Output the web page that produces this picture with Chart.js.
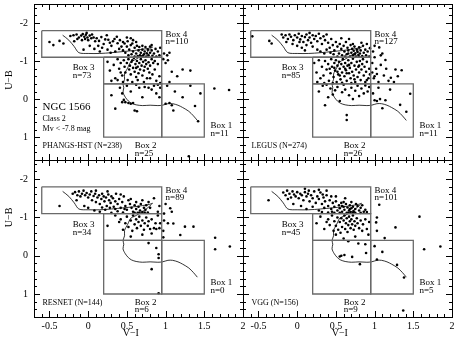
<!DOCTYPE html>
<html>
<head>
<meta charset="utf-8">
<script src="https://cdn.jsdelivr.net/npm/chart.js@4.4.0/dist/chart.umd.min.js"></script>
<style>
  body { margin: 0; background: #fff; }
  #wrap { position: relative; width: 457px; height: 341px; background: #fff; }
  #wrap canvas { position: absolute; left: 0; top: 0; }
</style>
</head>
<body>
<div id="wrap">
  <canvas id="c0" width="457" height="341"></canvas>
  <canvas id="c1" width="457" height="341"></canvas>
  <canvas id="c2" width="457" height="341"></canvas>
  <canvas id="c3" width="457" height="341"></canvas>
</div>
<script>
// axis ranges and tick labels
const xRange = [-0.7, 2.0];
const yRange = [-2.5, 1.6];
const xTickValues = [-0.5, 0, 0.5, 1, 1.5, 2];
const yTickValues = [-2, -1, 0, 1];

// box edges (V-I and U-B)
const boxEdgesX = [-0.6, 0.2, 0.95, 1.5];
const boxEdgesY = [-1.8, -1.1, -0.4, 1.0];

// model track
const trackX = [-0.33, -0.25, -0.18, -0.12, 0.00, 0.15, 0.30, 0.45, 0.60, 0.70, 0.79, 0.83, 0.75, 0.66, 0.60, 0.55, 0.51, 0.47, 0.47, 0.45, 0.46, 0.45, 0.48, 0.52, 0.56, 0.62, 0.70, 0.80, 0.90, 0.96, 1.03, 1.09, 1.16, 1.22, 1.30, 1.36, 1.41];
const trackY = [-1.68, -1.55, -1.38, -1.22, -1.20, -1.20, -1.22, -1.25, -1.28, -1.31, -1.34, -1.37, -1.22, -1.10, -1.03, -0.98, -0.82, -0.66, -0.52, -0.40, -0.30, -0.18, -0.05, 0.05, 0.11, 0.15, 0.17, 0.16, 0.17, 0.16, 0.12, 0.12, 0.16, 0.22, 0.32, 0.44, 0.56];

const panelNames = ['PHANGS-HST (N=238)', 'LEGUS (N=274)', 'RESNET (N=144)', 'VGG (N=156)'];
// counts for Box 1..4
const boxCounts = [[11, 25, 73, 110], [11, 26, 85, 127], [0, 6, 34, 89], [5, 9, 45, 101]];

// cluster colours [V-I, U-B]
const phangsPts = [
  [-0.50,-1.50],[-0.45,-1.42],[-0.37,-1.53],[-0.32,-1.46],
  [-0.23,-1.66],[-0.19,-1.68],[-0.15,-1.70],[-0.12,-1.62],[-0.09,-1.67],[-0.07,-1.71],[-0.05,-1.64],[-0.03,-1.69],[-0.01,-1.62],[-0.04,-1.58],[0.00,-1.55],[0.02,-1.67],[0.04,-1.60],[0.07,-1.62],[0.09,-1.52],[-0.08,-1.55],[-0.14,-1.58],[-0.02,-1.74],[0.05,-1.70],[-0.18,-1.52],
  [0.11,-1.60],[0.14,-1.53],[0.17,-1.63],[0.20,-1.45],[0.22,-1.57],[0.24,-1.68],[0.26,-1.56],[0.28,-1.48],[0.30,-1.40],[0.32,-1.52],[0.34,-1.58],[0.37,-1.64],[0.38,-1.47],[0.41,-1.55],[0.43,-1.38],[0.13,-1.40],[0.18,-1.35],[0.25,-1.30],[0.08,-1.32],[0.02,-1.40],[-0.06,-1.30],[0.35,-1.25],[0.40,-1.32],[0.29,-1.22],[0.15,-1.25],[0.45,-1.50],
  [0.47,-1.46],[0.50,-1.38],[0.51,-1.52],[0.53,-1.30],[0.55,-1.42],[0.57,-1.46],[0.58,-1.25],[0.60,-1.35],[0.62,-1.20],[0.63,-1.40],[0.65,-1.28],[0.66,-1.37],[0.67,-1.15],[0.68,-1.22],[0.70,-1.40],[0.70,-1.30],[0.72,-1.18],[0.73,-1.25],[0.74,-1.37],[0.75,-1.12],[0.76,-1.20],[0.77,-1.30],[0.78,-1.15],[0.80,-1.38],[0.80,-1.22],[0.82,-1.28],[0.83,-1.14],[0.85,-1.20],[0.87,-1.32],[0.88,-1.12],[0.90,-1.25],[0.48,-1.22],[0.52,-1.15],[0.56,-1.18],[0.60,-1.12],[0.64,-1.13],[0.69,-1.12],[0.71,-1.14],[0.45,-1.28],[0.58,-1.55],[0.62,-1.50],[0.92,-1.15],[0.93,-1.35],[0.82,-1.42],[0.55,-1.60],[0.50,-1.62],
  [0.25,-0.98],[0.28,-0.75],[0.33,-0.90],[0.35,-0.55],[0.38,-1.05],[0.40,-0.80],[0.42,-0.95],[0.44,-0.62],[0.46,-1.02],[0.47,-0.85],[0.48,-0.70],[0.50,-0.95],[0.51,-0.50],[0.52,-1.05],[0.53,-0.78],[0.54,-0.88],[0.55,-0.65],[0.56,-0.98],[0.57,-0.45],[0.58,-0.82],[0.59,-1.08],[0.60,-0.72],[0.61,-0.92],[0.62,-0.58],[0.63,-1.00],[0.64,-0.85],[0.65,-0.68],[0.66,-0.95],[0.67,-0.78],[0.68,-1.05],[0.69,-0.88],[0.70,-0.62],[0.71,-0.98],[0.72,-0.75],[0.73,-0.85],[0.74,-1.02],[0.75,-0.92],[0.76,-0.55],[0.77,-0.80],[0.78,-0.97],[0.79,-0.70],[0.80,-0.88],[0.82,-1.05],[0.83,-0.65],[0.84,-0.95],[0.86,-0.78],[0.88,-0.48],[0.90,-0.92],[0.92,-0.60],[0.93,-0.42],[0.45,-0.45],[0.38,-0.50],[0.30,-0.48],[0.57,-1.02],[0.64,-0.50],[0.72,-0.45],[0.80,-0.55],[0.86,-1.00],[0.42,-0.70],[0.62,-0.82],
  [0.30,-0.10],[0.41,-0.30],[0.44,-0.15],[0.46,0.02],[0.48,0.08],[0.52,0.10],[0.55,0.12],[0.58,0.10],[0.60,0.30],[0.63,0.32],[0.66,-0.30],[0.70,-0.05],[0.73,-0.32],[0.78,-0.30],[0.82,-0.25],[0.85,-0.35],[0.88,-0.15],[0.90,-0.38],[0.93,-0.30],[0.35,0.25],[0.50,-0.35],[0.55,-0.20],[0.62,-0.38],[0.92,-0.05],[0.44,0.08],
  [1.00,0.12],[1.05,0.10],[1.08,0.16],[1.10,0.30],[1.02,-0.35],[1.12,-0.20],[1.22,-0.05],[1.32,-0.35],[1.45,-0.15],[1.38,0.18],[1.42,0.58],
  [0.98,-1.20],[1.02,-1.15],[1.05,-1.22],[0.97,-1.05],[1.00,-0.95],[1.03,-1.02],[1.08,-0.72],[1.22,-0.78],[1.32,-0.75],[1.15,-0.60],[1.05,-0.45],[1.63,-0.28],[1.82,-0.24],[1.30,1.50]
];

const legusPts = [
  [-0.58,-1.65],[-0.36,-1.53],[-0.33,-1.46],
  [-0.18,-1.62],[-0.15,-1.68],[-0.12,-1.58],[-0.10,-1.70],[-0.08,-1.64],[-0.05,-1.55],[-0.03,-1.68],[0.00,-1.62],[0.02,-1.72],[0.04,-1.57],[0.06,-1.66],[0.08,-1.50],[0.10,-1.63],[0.12,-1.70],[0.14,-1.55],[0.16,-1.62],[0.18,-1.48],[0.20,-1.68],[0.22,-1.58],[0.24,-1.66],[0.26,-1.52],[0.28,-1.72],[0.30,-1.60],[0.32,-1.45],[0.34,-1.65],[0.36,-1.55],[-0.06,-1.45],[0.00,-1.40],[0.06,-1.35],[0.12,-1.42],[-0.14,-1.50],[0.20,-1.38],[0.26,-1.30],[0.10,-1.28],[0.03,-1.50],[0.16,-1.74],[-0.20,-1.70],[0.38,-1.70],
  [0.40,-1.48],[0.42,-1.35],[0.44,-1.58],[0.46,-1.42],[0.48,-1.28],[0.50,-1.50],[0.52,-1.38],[0.54,-1.20],[0.55,-1.45],[0.57,-1.32],[0.58,-1.15],[0.60,-1.40],[0.61,-1.25],[0.63,-1.50],[0.64,-1.18],[0.65,-1.35],[0.66,-1.28],[0.68,-1.12],[0.69,-1.42],[0.70,-1.22],[0.71,-1.32],[0.72,-1.15],[0.73,-1.27],[0.74,-1.38],[0.75,-1.20],[0.76,-1.12],[0.77,-1.30],[0.78,-1.24],[0.79,-1.16],[0.80,-1.36],[0.81,-1.20],[0.82,-1.28],[0.84,-1.13],[0.85,-1.40],[0.86,-1.22],[0.88,-1.30],[0.89,-1.15],[0.91,-1.25],[0.93,-1.12],[0.94,-1.34],[0.47,-1.18],[0.52,-1.12],[0.57,-1.60],[0.62,-1.12],[0.67,-1.58],[0.72,-1.45],[0.83,-1.48],[0.43,-1.22],[0.38,-1.30],[0.35,-1.20],[0.30,-1.25],[0.90,-1.45],[0.66,-1.20],[0.74,-1.18],[0.80,-1.12],
  [0.22,-0.95],[0.25,-0.70],[0.28,-1.02],[0.30,-0.55],[0.32,-0.85],[0.34,-0.62],[0.36,-1.00],[0.38,-0.78],[0.40,-0.92],[0.41,-0.48],[0.43,-0.68],[0.44,-1.05],[0.45,-0.85],[0.47,-0.58],[0.48,-0.95],[0.49,-0.75],[0.50,-1.02],[0.51,-0.45],[0.52,-0.88],[0.53,-0.65],[0.54,-0.98],[0.55,-0.80],[0.56,-0.52],[0.57,-0.92],[0.58,-0.70],[0.59,-1.05],[0.60,-0.85],[0.61,-0.60],[0.62,-0.95],[0.63,-0.76],[0.64,-0.48],[0.65,-0.88],[0.66,-1.02],[0.67,-0.68],[0.68,-0.82],[0.69,-0.55],[0.70,-0.95],[0.71,-0.72],[0.72,-1.06],[0.73,-0.62],[0.74,-0.88],[0.75,-0.45],[0.76,-0.78],[0.77,-0.98],[0.78,-0.58],[0.79,-0.85],[0.80,-0.70],[0.81,-1.00],[0.82,-0.50],[0.83,-0.78],[0.84,-0.92],[0.86,-0.62],[0.87,-0.85],[0.88,-0.45],[0.89,-0.72],[0.90,-0.98],[0.92,-0.55],[0.93,-0.80],[0.94,-0.65],[0.26,-0.45],[0.35,-0.42],[0.46,-0.42],[0.58,-0.43],[0.70,-0.42],[0.62,-0.80],[0.55,-0.62],[0.48,-0.82],[0.67,-0.90],[0.74,-0.52],[0.85,-1.05],[0.42,-0.80],[0.52,-0.72],[0.64,-0.68],[0.80,-0.88],[0.90,-0.50],
  [0.28,-0.20],[0.33,-0.35],[0.36,0.16],[0.40,-0.05],[0.43,-0.28],[0.46,-0.12],[0.49,-0.23],[0.52,-0.32],[0.55,0.05],[0.58,-0.18],[0.60,-0.38],[0.62,-0.25],[0.64,0.42],[0.64,0.55],[0.67,-0.10],[0.70,-0.30],[0.72,0.00],[0.75,-0.22],[0.78,-0.35],[0.80,-0.08],[0.83,-0.28],[0.86,-0.15],[0.88,-0.36],[0.91,-0.20],[0.93,-0.32],[0.38,-0.38],
  [1.00,0.03],[1.03,0.05],[1.07,0.00],[1.14,0.03],[1.10,0.24],[1.33,0.15],[1.41,0.33],[1.46,-0.14],[1.05,-0.30],[1.20,-0.25],[0.98,-0.15],
  [1.06,-1.36],[1.10,-1.20],[1.14,-1.03],[1.08,-0.90],[1.03,-0.66],[1.12,-0.62],[1.21,-0.56],[1.27,-0.78],[1.35,-0.76],[1.18,-0.48],[0.98,-1.25],[1.00,-1.10],[0.97,-0.95],[1.02,-0.80],[0.99,-0.55],[1.05,-0.45],[1.15,-0.80],[1.00,-1.40],[1.25,-0.45],[0.97,-0.70],[1.30,-0.60],[1.08,-1.15],[1.00,-0.60]
];

const resnetPts = [
  [-0.37,-1.30],[-0.20,-1.62],[-0.17,-1.66],[-0.14,-1.58],[-0.12,-1.68],[-0.10,-1.55],[-0.08,-1.62],[-0.06,-1.70],[-0.04,-1.58],[-0.02,-1.64],[0.00,-1.52],[0.02,-1.60],[0.04,-1.68],[0.05,-1.45],[0.07,-1.56],[0.09,-1.62],[0.10,-1.40],[0.12,-1.52],[0.14,-1.58],[0.15,-1.35],[0.17,-1.48],[0.18,-1.62],[0.20,-1.55],[0.21,-1.42],[0.23,-1.52],[0.24,-1.30],[0.26,-1.60],[0.27,-1.45],[0.29,-1.38],[0.30,-1.55],[0.32,-1.50],[0.33,-1.28],[0.35,-1.42],[0.36,-1.62],[0.38,-1.35],[0.40,-1.48],[0.42,-1.25],[0.44,-1.40],[0.46,-1.55],[0.48,-1.30],[0.50,-1.20],[0.52,-1.45],[0.54,-1.35],[0.56,-1.25],[0.58,-1.15],[0.60,-1.32],[0.62,-1.22],[0.64,-1.12],[0.65,-1.28],[0.67,-1.18],[0.68,-1.35],[0.70,-1.14],[0.72,-1.25],[0.74,-1.20],[0.75,-1.32],[0.77,-1.13],[0.78,-1.40],[0.80,-1.25],[0.85,-1.50],[0.90,-1.15],[0.92,-1.30],[0.00,-1.25],[-0.05,-1.30],[0.08,-1.18],[0.15,-1.15],[0.22,-1.20],[0.30,-1.12],[0.38,-1.16],[0.45,-1.13],[0.55,-1.48],[0.62,-1.40],[0.70,-1.45],[0.10,-1.70],[0.25,-1.68],[0.42,-1.60],[-0.15,-1.45],[0.60,-1.12],[0.66,-1.12],[0.73,-1.13],[0.47,-1.22],[0.35,-1.22],[0.28,-1.25],[0.18,-1.26],
  [0.25,-0.78],[0.35,-1.05],[0.42,-0.95],[0.45,-0.68],[0.48,-0.85],[0.50,-1.02],[0.52,-0.75],[0.55,-0.92],[0.57,-0.65],[0.58,-1.05],[0.60,-0.82],[0.62,-0.95],[0.63,-0.72],[0.65,-0.88],[0.66,-1.02],[0.68,-0.78],[0.70,-0.92],[0.72,-0.68],[0.73,-0.85],[0.75,-1.00],[0.77,-0.78],[0.78,-0.90],[0.80,-0.70],[0.82,-0.95],[0.85,-0.72],[0.87,-0.85],[0.88,-0.70],[0.90,-1.05],[0.92,-0.72],[0.70,-0.55],[0.82,-0.58],[0.55,-0.50],[0.93,-0.85],[0.40,-0.88],
  [0.91,-0.04],[0.91,0.06],[0.82,0.35],[0.78,-0.33],[0.91,0.98],[0.88,-0.20],
  [1.64,-0.47],[1.64,-0.17],[1.83,-0.24],[1.25,-0.76],[1.36,-0.76],[1.19,-0.54],[1.03,-0.85],[1.10,-0.84],[1.06,-1.24],[1.08,-1.15],[0.98,-0.92],[0.97,-0.65],[1.00,-1.35],[0.97,-0.48],[0.98,-1.10]
];

const vggPts = [
  [-0.37,-1.45],[-0.18,-1.65],[-0.15,-1.58],[-0.13,-1.70],[-0.10,-1.62],[-0.08,-1.52],[-0.06,-1.68],[-0.04,-1.60],[-0.02,-1.55],[0.00,-1.66],[0.02,-1.50],[0.04,-1.62],[0.06,-1.58],[0.08,-1.45],[0.10,-1.66],[0.12,-1.55],[0.14,-1.62],[0.16,-1.42],[0.18,-1.58],[0.20,-1.50],[0.22,-1.68],[0.24,-1.38],[0.26,-1.55],[0.28,-1.48],[0.30,-1.65],[0.32,-1.35],[0.34,-1.52],[0.36,-1.42],[0.38,-1.58],[0.40,-1.30],[0.42,-1.45],[0.44,-1.22],[0.46,-1.38],[0.48,-1.28],[0.50,-1.42],[0.52,-1.18],[0.54,-1.32],[0.55,-1.24],[0.57,-1.38],[0.58,-1.15],[0.60,-1.28],[0.61,-1.20],[0.63,-1.35],[0.64,-1.12],[0.65,-1.26],[0.67,-1.18],[0.68,-1.32],[0.69,-1.14],[0.70,-1.24],[0.72,-1.28],[0.73,-1.16],[0.75,-1.22],[0.76,-1.35],[0.78,-1.30],[0.80,-1.18],[0.82,-1.25],[0.84,-1.32],[0.86,-1.15],[0.88,-1.20],[-0.05,-1.35],[0.05,-1.30],[0.12,-1.22],[0.20,-1.28],[0.28,-1.18],[0.35,-1.25],[0.45,-1.15],[0.10,-1.75],[0.28,-1.72],[0.38,-1.70],[0.50,-1.55],[0.62,-1.50],[0.70,-1.40],[0.55,-1.12],[0.48,-1.12],[0.66,-1.12],[0.75,-1.12],[0.82,-1.12],[0.90,-1.14],[-0.12,-1.48],[0.15,-1.70],[0.33,-1.60],[0.44,-1.55],[0.60,-1.40],[0.72,-1.12],[0.40,-1.13],[0.32,-1.14],[0.58,-1.30],[0.68,-1.22],
  [0.25,-0.85],[0.30,-1.02],[0.35,-0.70],[0.40,-0.95],[0.42,-0.80],[0.45,-1.05],[0.47,-0.65],[0.48,-0.90],[0.50,-0.78],[0.52,-1.00],[0.53,-0.68],[0.55,-0.88],[0.56,-0.60],[0.57,-0.98],[0.58,-0.75],[0.60,-0.92],[0.61,-1.05],[0.62,-0.70],[0.63,-0.85],[0.64,-0.98],[0.65,-0.62],[0.66,-0.80],[0.67,-1.02],[0.68,-0.90],[0.69,-0.72],[0.70,-0.95],[0.71,-0.82],[0.72,-1.05],[0.73,-0.68],[0.74,-0.90],[0.75,-0.78],[0.77,-0.98],[0.78,-0.85],[0.80,-0.72],[0.82,-0.92],[0.84,-0.65],[0.85,-0.82],[0.88,-0.95],[0.90,-0.70],[0.92,-0.55],[0.93,-0.88],[0.50,-0.55],[0.38,-0.88],[0.60,-0.45],[0.75,-0.50],
  [0.79,-0.32],[0.55,0.02],[0.61,-0.02],[0.71,0.03],[0.81,0.22],[0.89,-0.07],[0.57,0.00],[0.88,-0.30],[0.66,-0.38],
  [1.03,0.10],[1.29,0.24],[1.38,0.57],[1.00,-0.25],[1.10,-0.10],
  [1.06,-1.33],[1.03,-1.00],[1.02,-0.87],[1.03,-0.65],[1.27,-0.74],[1.13,-0.46],[1.58,-1.02],[1.64,-0.17],[1.85,-0.24],[1.37,1.43]
];

const allPts = [phangsPts, legusPts, resnetPts, vggPts];

// panel chart areas in page pixels: left, top, right, bottom
const panelAreas = [[34, 3, 243, 160], [243, 3, 452, 160], [34, 160, 243, 317], [243, 160, 452, 317]];
const W = 457, H = 341;
const serif = '"Liberation Serif", "DejaVu Serif", serif';

function boxPolygon(x0, x1, y0, y1) {
    return [{x: x0, y: y0}, {x: x1, y: y0}, {x: x1, y: y1}, {x: x0, y: y1}, {x: x0, y: y0}];
}

// frame, inward ticks, axis titles and panel labels
const panelDecor = {
    id: 'panelDecor',
    afterDraw(chart, args, opts) {
        const {ctx, chartArea: a} = chart;
        const xs = chart.scales.x, ys = chart.scales.y;
        ctx.save();
        ctx.strokeStyle = '#000';
        ctx.lineWidth = 1;
        ctx.strokeRect(a.left + 0.5, a.top + 0.5, a.right - a.left, a.bottom - a.top);
        ctx.beginPath();
        for (let i = -6; i <= 19; i++) {
            const px = Math.round(xs.getPixelForValue(i / 10)) + 0.5;
            const len = i % 5 === 0 ? 6 : 3;
            ctx.moveTo(px, a.bottom); ctx.lineTo(px, a.bottom - len);
            ctx.moveTo(px, a.top); ctx.lineTo(px, a.top + len);
        }
        for (let i = -12; i <= 8; i++) {
            const py = Math.round(ys.getPixelForValue(i / 5)) + 0.5;
            const len = i % 5 === 0 ? 6 : 3;
            ctx.moveTo(a.left, py); ctx.lineTo(a.left + len, py);
            ctx.moveTo(a.right, py); ctx.lineTo(a.right - len, py);
        }
        ctx.stroke();

        const text = (s, vx, vy, size) => {
            ctx.font = size + 'px ' + serif;
            ctx.fillText(s, xs.getPixelForValue(vx), ys.getPixelForValue(vy));
        };
        ctx.fillStyle = '#000';
        ctx.textAlign = 'left';
        ctx.textBaseline = 'middle';
        const c = opts.counts;
        text('Box 4', 1.0, -1.70, 9);  text('n=' + c[3], 1.0, -1.51, 9);
        text('Box 3', -0.2, -0.82, 9); text('n=' + c[2], -0.2, -0.61, 9);
        text('Box 2', 0.6, 1.22, 9);   text('n=' + c[1], 0.6, 1.42, 9);
        text('Box 1', 1.58, 0.70, 9);  text('n=' + c[0], 1.58, 0.90, 9);
        text(opts.name, -0.59, 1.22, 8);
        if (opts.header) {
            text('NGC 1566', -0.59, 0.22, 11);
            text('Class 2', -0.59, 0.52, 8);
            text('Mv < -7.8 mag', -0.59, 0.78, 8);
        }

        // axis titles
        ctx.font = '10px ' + serif;
        ctx.textAlign = 'center';
        if (opts.yTitleAt !== null) {
            ctx.save();
            ctx.translate(9, ys.getPixelForValue(opts.yTitleAt));
            ctx.rotate(-Math.PI / 2);
            ctx.fillText('U\u2212B', 0, 0);
            ctx.restore();
        }
        if (opts.xTitle) {
            ctx.fillText('V\u2212I', xs.getPixelForValue(0.55), 333);
        }
        ctx.restore();
    }
};

function noEdgePadding(s) {
    s.paddingTop = 0; s.paddingBottom = 0; s.paddingLeft = 0; s.paddingRight = 0;
}

function makePanel(k) {
    const [l, t, r, b] = panelAreas[k];
    const leftCol = k % 2 === 0;
    const bottomRow = k >= 2;
    const yAxisW = leftCol ? 34 : 0;
    const xAxisH = bottomRow ? 24 : 0;

    const datasets = [];
    const edgesX = boxEdgesX, edgesY = boxEdgesY;
    const boxes = [
        boxPolygon(edgesX[0], edgesX[2], edgesY[0], edgesY[1]),
        boxPolygon(edgesX[1], edgesX[2], edgesY[1], edgesY[2]),
        boxPolygon(edgesX[1], edgesX[2], edgesY[2], edgesY[3]),
        boxPolygon(edgesX[2], edgesX[3], edgesY[2], edgesY[3])
    ];
    boxes.forEach(poly => datasets.push({
        data: poly, showLine: true, pointRadius: 0,
        borderColor: '#6a6a6a', borderWidth: 1.3, fill: false
    }));
    datasets.push({
        data: trackX.map((v, i) => ({x: v, y: trackY[i]})),
        showLine: true, pointRadius: 0, borderColor: '#000', borderWidth: 0.8,
        tension: 0.3, fill: false
    });
    datasets.push({
        data: allPts[k].map(p => ({x: p[0], y: p[1]})),
        pointRadius: 1.3, pointBackgroundColor: '#000', pointBorderWidth: 0,
        showLine: false
    });

    new Chart(document.getElementById('c' + k), {
        type: 'scatter',
        data: {datasets: datasets},
        options: {
            responsive: false,
            animation: false,
            events: [],
            layout: {
                padding: {
                    left: l - yAxisW,
                    right: W - r,
                    top: t,
                    bottom: H - b - xAxisH
                }
            },
            plugins: {
                legend: {display: false},
                tooltip: {enabled: false},
                panelDecor: {
                    name: panelNames[k], counts: boxCounts[k], header: k === 0,
                    yTitleAt: leftCol ? (bottomRow ? -1.0 : -0.5) : null,
                    xTitle: bottomRow
                }
            },
            scales: {
                x: {
                    type: 'linear',
                    min: xRange[0], max: xRange[1],
                    display: bottomRow,
                    grid: {display: false, drawTicks: false},
                    border: {display: false},
                    afterBuildTicks: s => { s.ticks = xTickValues.map(v => ({value: v})); },
                    afterFit: s => { s.height = xAxisH; noEdgePadding(s); },
                    ticks: {color: '#000', font: {family: serif, size: 10}, padding: 3, maxRotation: 0, autoSkip: false,
                            callback: v => String(v)}
                },
                y: {
                    type: 'linear',
                    reverse: true,
                    min: yRange[0], max: yRange[1],
                    display: leftCol,
                    grid: {display: false, drawTicks: false},
                    border: {display: false},
                    afterBuildTicks: s => { s.ticks = yTickValues.map(v => ({value: v})); },
                    afterFit: s => { s.width = yAxisW; noEdgePadding(s); },
                    ticks: {color: '#000', font: {family: serif, size: 10}, padding: 6, autoSkip: false,
                            callback: v => String(v)}
                }
            }
        },
        plugins: [panelDecor]
    });
}

for (let k = 0; k < 4; k++) makePanel(k);
</script>
</body>
</html>
